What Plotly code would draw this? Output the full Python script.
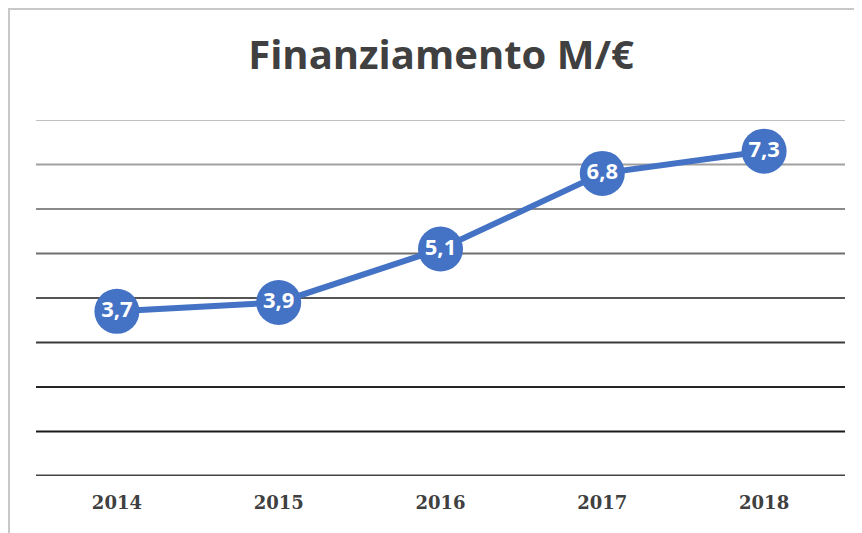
import plotly.graph_objects as go

years = ["2014", "2015", "2016", "2017", "2018"]
values = [3.7, 3.9, 5.1, 6.8, 7.3]
grid_levels = [0, 1, 2, 3, 4, 5, 6, 7, 8]
grid_colors = ["#444444", "#1a1a1a", "#262626", "#3a3a3a", "#555555",
               "#6e6e6e", "#8a8a8a", "#a0a0a0", "#c0c0c0"]
grid_widths = [3, 2, 2, 2, 2, 2, 2, 2, 2]

# page has an 8px body margin; compensate so the plot lands where the reference has it
OFF = 8
W, H = 862 - OFF, 533 - OFF
ml, mr, mt, mb = 36 - OFF, 17, 120 - OFF, 57

fig = go.Figure()
fig.add_trace(go.Scatter(
    x=years, y=values, mode="lines+markers+text",
    line=dict(color="#4472C4", width=6),
    marker=dict(size=45, color="#4472C4"),
    text=[f"{v:.1f}".replace(".", ",") for v in values],
    textposition="middle center",
    textfont=dict(family="Open Sans", size=22, color="white", weight="bold"),
    cliponaxis=False, hoverinfo="skip",
))

shapes = []
for lv, c, w in zip(grid_levels, grid_colors, grid_widths):
    shapes.append(dict(type="line", xref="paper", yref="y", x0=0, x1=1, y0=lv, y1=lv,
                       line=dict(color=c, width=w), layer="below"))
pw = W - ml - mr
ph = H - mt - mb
shapes.append(dict(type="rect", xref="paper", yref="paper",
                   x0=(1 - ml) / pw, x1=(W + 20 - ml) / pw,
                   y0=-(H + 20 - mt - ph) / ph, y1=(mt - 1 + ph) / ph,
                   line=dict(color="#c8c8c8", width=2), layer="below"))

fig.update_layout(
    width=W, height=H,
    margin=dict(l=ml, r=mr, t=mt, b=mb),
    paper_bgcolor="white", plot_bgcolor="white",
    showlegend=False,
    title=dict(text="<b>Finanziamento M/€</b>", x=(441 - OFF) / W, xanchor="center",
               y=1 - (55 - OFF) / H, yanchor="middle",
               font=dict(family="Open Sans", size=40, color="#404040")),
    xaxis=dict(type="category", range=[-0.5, 4.5], showgrid=False, zeroline=False,
               showline=False, ticks="", ticklabelstandoff=14,
               tickfont=dict(family="DejaVu Serif", size=18, color="#404040", weight="bold")),
    yaxis=dict(range=[0, 8], showgrid=False, zeroline=False, showticklabels=False,
               showline=False, ticks=""),
    shapes=shapes,
)

fig.write_html("out.html")
